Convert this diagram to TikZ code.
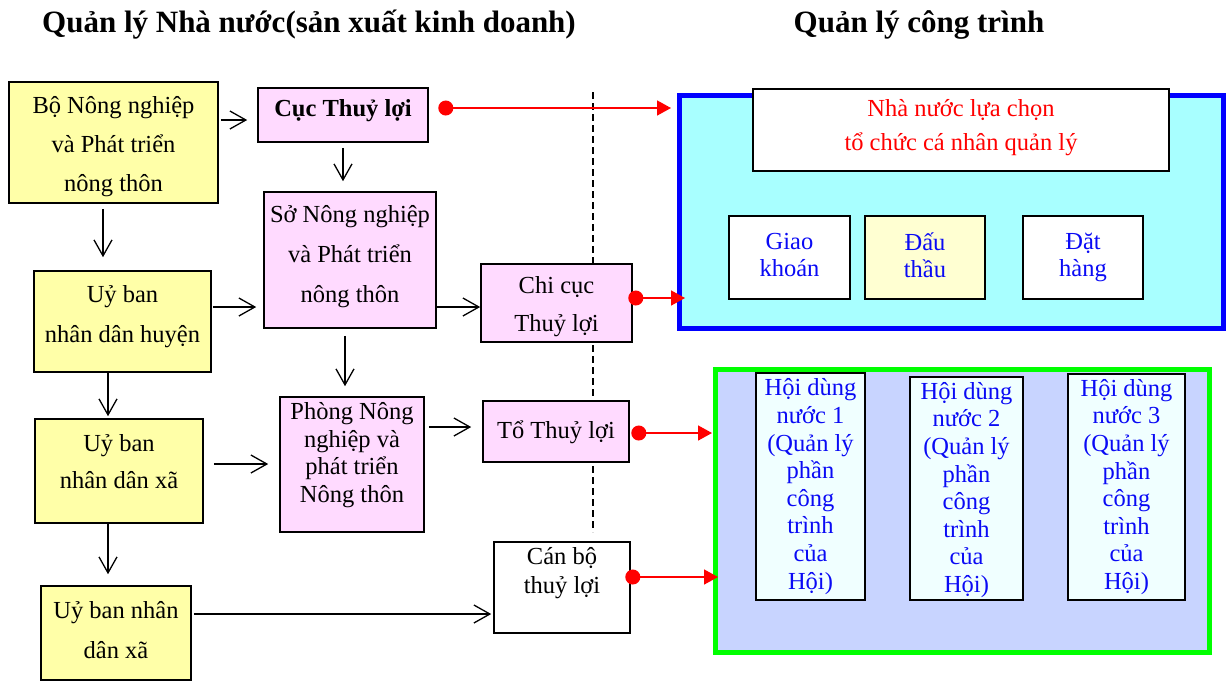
\documentclass[tikz,border=0pt]{standalone}
\usepackage{fontspec}
\setmainfont{Liberation Serif}
\usetikzlibrary{arrows.meta}
\definecolor{yel}{HTML}{FFFFA8}
\definecolor{pnk}{HTML}{FFDAFF}
\definecolor{cyn}{HTML}{A8FFFF}
\definecolor{lyel}{HTML}{FFFFD2}
\definecolor{lav}{HTML}{C8D4FF}
\definecolor{lcy}{HTML}{F0FFFF}
\definecolor{bbord}{HTML}{0000FF}
\definecolor{btxt}{HTML}{0A0AF5}
\definecolor{grn}{HTML}{00FF00}
\definecolor{rd}{HTML}{FF0000}
\begin{document}
\begin{tikzpicture}[x=1pt,y=-1pt,
  bx/.style={draw=black,line width=1.6pt,inner sep=0pt},
  lbl/.style={align=center,inner sep=0pt,font=\fontsize{24.5}{#1}\selectfont},
  lbl/.default=28,
  ttl/.style={inner sep=0pt,anchor=base,font=\fontsize{31}{35}\selectfont\bfseries},
  arr/.style={draw=black,line width=1.3pt,-{Straight Barb[length=16pt,width=18pt]}},
  rarr/.style={draw=rd,line width=1.6pt,{Circle[length=15pt]}-{Triangle[length=14pt,width=15pt]}},
  dsh/.style={draw=black,line width=1.3pt,dash pattern=on 7pt off 4pt}
]
\useasboundingbox (0,0) rectangle (1228,681);

% titles
\node[ttl] (t1) at (309,32) {Quản lý Nhà nước(sản xuất kinh doanh)};
\node[ttl] (t2) at (919,32) {Quản lý công trình};

% dashed divider
\coordinate (dtop) at (593,92);
\coordinate (dbot) at (593,532);
\draw[dsh] (dtop) -- (dbot);

% big containers
\node[draw=bbord,line width=5pt,fill=cyn,minimum width=544,minimum height=233,inner sep=0pt] (qlbox) at (951.5,212) {};
\node[draw=grn,line width=5pt,fill=lav,minimum width=494,minimum height=283,inner sep=0pt] (hbox) at (962.5,511) {};

% left boxes
\node[bx,fill=yel,minimum width=209,minimum height=121] (bo) at (113.5,142.5) {};
\node[lbl=39] (bot) at (113.5,147) {Bộ Nông nghiệp\\và Phát triển\\nông thôn};
\node[bx,fill=pnk,minimum width=170,minimum height=54] (cuc) at (343,115) {};
\node[lbl,font=\fontsize{24.5}{28}\selectfont\bfseries] (cuct) at (343,111) {Cục Thuỷ lợi};
\node[bx,fill=pnk,minimum width=172,minimum height=136] (so) at (350,260) {};
\node[lbl=40] (sot) at (350,257) {Sở Nông nghiệp\\và Phát triển\\nông thôn};
\node[bx,fill=yel,minimum width=177,minimum height=101] (ubh) at (122.5,321.5) {};
\node[lbl=40] (ubht) at (122.5,317) {Uỷ ban\\nhân dân huyện};
\node[bx,fill=yel,minimum width=168,minimum height=104] (ubx) at (119,471) {};
\node[lbl=37] (ubxt) at (119,462) {Uỷ ban\\nhân dân xã};
\node[bx,fill=yel,minimum width=150,minimum height=94] (ubx2) at (116,633) {};
\node[lbl=40] (ubx2t) at (116,630) {Uỷ ban nhân\\dân xã};
\node[bx,fill=pnk,minimum width=144,minimum height=135] (phong) at (352,464.5) {};
\node[lbl=27.7] (phongt) at (352,455) {Phòng Nông\\nghiệp và\\phát triển\\Nông thôn};
\node[bx,fill=pnk,minimum width=151,minimum height=78] (chicuc) at (556.5,303) {};
\node[lbl=38] (chicuct) at (556.5,307) {Chi cục\\Thuỷ lợi};
\node[bx,fill=pnk,minimum width=146,minimum height=61] (to) at (556,431.5) {};
\node[lbl] (tot) at (556,432) {Tổ Thuỷ lợi};
\node[bx,fill=white,minimum width=136,minimum height=91] (canbo) at (562,587.5) {};
\node[lbl=29] (canbot) at (562,573) {Cán bộ\\thuỷ lợi};

% right top boxes
\node[bx,fill=white,minimum width=416,minimum height=82] (nn) at (961,130) {};
\node[lbl=34,text=rd] (nnt) at (961,128) {Nhà nước lựa chọn\\tổ chức cá nhân quản lý};
\node[bx,fill=white,minimum width=121,minimum height=83] (giao) at (789.5,257.5) {};
\node[lbl=27,text=btxt] (giaot) at (789.5,255) {Giao\\khoán};
\node[bx,fill=lyel,minimum width=120,minimum height=83] (dau) at (925,257.5) {};
\node[lbl=27,text=btxt] (daut) at (925,255) {Đấu\\thầu};
\node[bx,fill=white,minimum width=120,minimum height=83] (dat) at (1083,257.5) {};
\node[lbl=27,text=btxt] (datt) at (1083,257) {Đặt\\hàng};

% right bottom boxes
\node[bx,fill=lcy,minimum width=109,minimum height=227] (hoi1) at (810.5,486.5) {};
\node[lbl=27.6,text=btxt] (hoi1t) at (810.5,486.5) {Hội dùng\\nước 1\\(Quản lý\\phần\\công\\trình\\của\\Hội)};
\node[bx,fill=lcy,minimum width=113,minimum height=223] (hoi2) at (966.5,488.5) {};
\node[lbl=27.6,text=btxt] (hoi2t) at (966.5,490) {Hội dùng\\nước 2\\(Quản lý\\phần\\công\\trình\\của\\Hội)};
\node[bx,fill=lcy,minimum width=117,minimum height=226] (hoi3) at (1126.5,487) {};
\node[lbl=27.6,text=btxt] (hoi3t) at (1126.5,487) {Hội dùng\\nước 3\\(Quản lý\\phần\\công\\trình\\của\\Hội)};

% black arrows
\draw[arr] ([xshift=2pt]bo.east |- 0,120) -- ([xshift=-10pt]cuc.west |- 0,120);
\draw[arr] ([yshift=-5pt]cuc.south) -- ([yshift=10pt]cuc.south |- so.north);
\draw[arr] ([yshift=-5pt]bo.south -| 103,0) -- ([yshift=13pt]ubh.north -| 103,0);
\draw[arr] ([xshift=1pt]ubh.east |- 0,307) -- ([xshift=-7pt]so.west |- 0,307);
\draw[arr] (so.east |- 0,307) -- (chicuc.west |- 0,307);
\draw[arr] ([yshift=-7pt]so.south -| 345,0) -- ([yshift=10pt]phong.north -| 345,0);
\draw[arr] (ubh.south -| 108,0) -- ([yshift=2pt]ubx.north -| 108,0);
\draw[arr] ([xshift=10pt]ubx.east |- 0,464) -- ([xshift=-11pt]phong.west |- 0,464);
\draw[arr] (ubx.south -| 108,0) -- ([yshift=11pt]ubx2.north -| 108,0);
\draw[arr] ([xshift=4pt]phong.east |- 0,427) -- ([xshift=-11pt]to.west |- 0,427);
\draw[arr] ([xshift=2pt]ubx2.east |- 0,614) -- ([xshift=-2pt]canbo.west |- 0,614);

% red connectors
\draw[rarr] ([xshift=9.5pt]cuc.east |- 0,108) -- ([xshift=-6pt]qlbox.west |- 0,108);
\draw[rarr] ([xshift=-4.5pt]chicuc.east |- 0,298) -- ([xshift=8pt]qlbox.west |- 0,298);
\draw[rarr] ([xshift=1.5pt]to.east |- 0,433) -- ([xshift=-1pt]hbox.west |- 0,433);
\draw[rarr] ([xshift=-5.5pt]canbo.east |- 0,577) -- ([xshift=5pt]hbox.west |- 0,577);
\end{tikzpicture}
\end{document}
